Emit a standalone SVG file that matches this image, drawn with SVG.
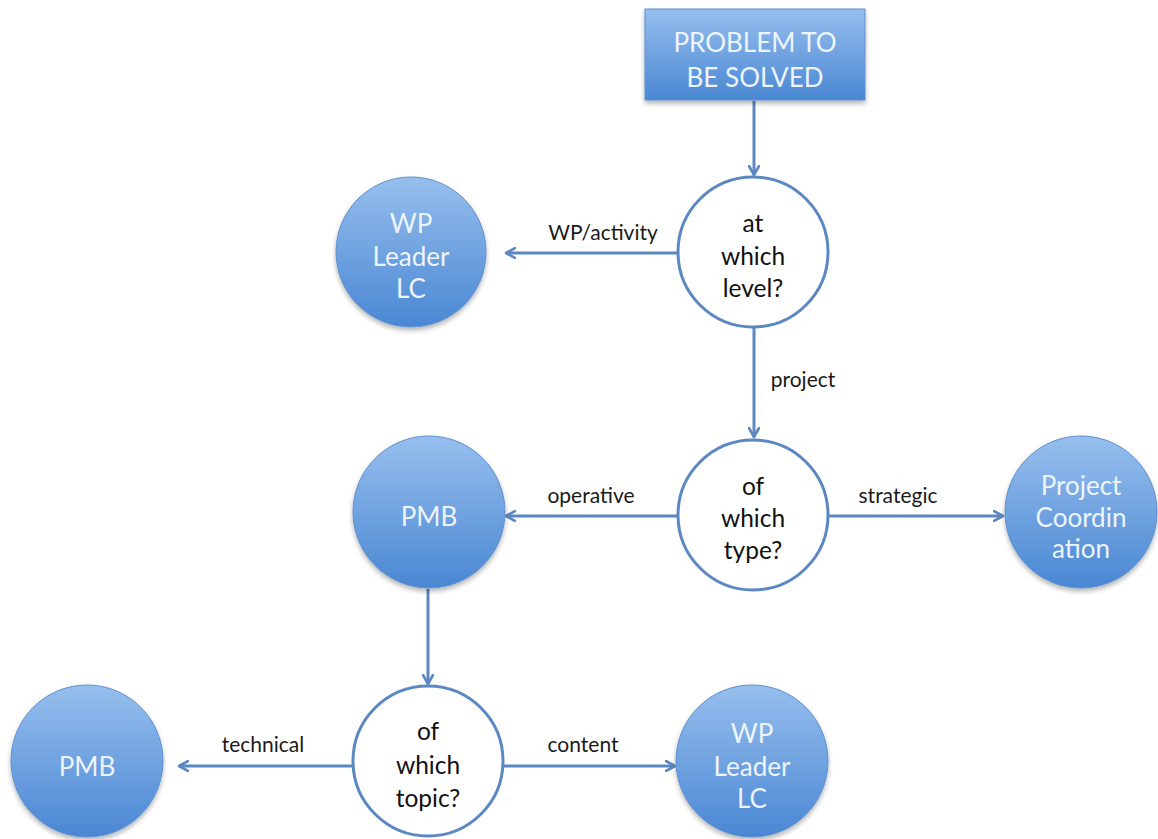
<svg xmlns="http://www.w3.org/2000/svg" width="1158" height="839" viewBox="0 0 1158 839">
  <style>
    .blue { fill: url(#blueFill); stroke: #5d8fcf; stroke-width: 1; filter: url(#shadow); }
    .ask { fill: #ffffff; stroke: #5b88c2; stroke-width: 3; }
    .edge { fill: none; stroke: #5b88c2; stroke-width: 3; marker-end: url(#arrow); }
    .tw { font-family: Lato, "Liberation Sans", sans-serif; font-size: 26px; fill: #eef4fc; text-anchor: middle; }
    .tb { font-family: Lato, "Liberation Sans", sans-serif; font-size: 24.5px; fill: #111111; text-anchor: middle; }
    .lbl { font-family: Lato, "Liberation Sans", sans-serif; font-size: 21px; fill: #1a1a1a; text-anchor: middle; }
  </style>
  <defs>
    <linearGradient id="blueFill" x1="0" y1="0" x2="0" y2="1">
      <stop offset="0" stop-color="#96bfee"/>
      <stop offset="1" stop-color="#4a87d3"/>
    </linearGradient>
    <filter id="shadow" x="-20%" y="-20%" width="140%" height="140%">
      <feGaussianBlur in="SourceAlpha" stdDeviation="2.5"/>
      <feOffset dx="0" dy="3" result="b"/>
      <feComponentTransfer><feFuncA type="linear" slope="0.3"/></feComponentTransfer>
      <feMerge><feMergeNode/><feMergeNode in="SourceGraphic"/></feMerge>
    </filter>
    <marker id="arrow" viewBox="0 0 12 12" refX="10" refY="6" markerWidth="12" markerHeight="12" markerUnits="userSpaceOnUse" orient="auto">
      <path d="M1,1 L10,6 L1,11" fill="none" stroke="#5b88c2" stroke-width="2.6" stroke-linecap="round" stroke-linejoin="round"/>
    </marker>
  </defs>

  <rect width="1158" height="839" fill="#ffffff"/>

  <!-- connectors and their labels -->
  <g id="connectors">
    <line class="edge" x1="754" y1="101" x2="754" y2="175"/>
    <line class="edge" x1="678" y1="253" x2="506" y2="253"/>
    <line class="edge" x1="754" y1="328" x2="754" y2="437"/>
    <line class="edge" x1="678" y1="516" x2="506" y2="516"/>
    <line class="edge" x1="828" y1="516" x2="1003" y2="516"/>
    <line class="edge" x1="428" y1="589" x2="428" y2="684"/>
    <line class="edge" x1="353" y1="766" x2="179" y2="766"/>
    <line class="edge" x1="503" y1="766" x2="675" y2="766"/>
    <text class="lbl" x="603" y="240">WP/activity</text>
    <text class="lbl" x="803" y="387">project</text>
    <text class="lbl" x="591" y="503">operative</text>
    <text class="lbl" x="898" y="503">strategic</text>
    <text class="lbl" x="263" y="752">technical</text>
    <text class="lbl" x="583" y="752">content</text>
  </g>

  <g id="problem">
    <rect class="blue" x="645" y="9" width="220" height="91"/>
    <text class="tw" x="755" y="52" font-size="31.5">PROBLEM TO</text>
    <text class="tw" x="755" y="87" font-size="31.5">BE SOLVED</text>
  </g>

  <g id="level">
    <circle class="ask" cx="753" cy="252" r="75"/>
    <text class="tb" x="753" y="232">at</text>
    <text class="tb" x="753" y="265">which</text>
    <text class="tb" x="753" y="297">level?</text>
  </g>

  <g id="wp-leader-top">
    <circle class="blue" cx="411" cy="252" r="75"/>
    <text class="tw" x="411" y="233">WP</text>
    <text class="tw" x="411" y="266">Leader</text>
    <text class="tw" x="411" y="298">LC</text>
  </g>

  <g id="type">
    <circle class="ask" cx="753" cy="515" r="75"/>
    <text class="tb" x="753" y="495">of</text>
    <text class="tb" x="753" y="527">which</text>
    <text class="tb" x="753" y="559">type?</text>
  </g>

  <g id="pmb-mid">
    <circle class="blue" cx="429" cy="512" r="76"/>
    <text class="tw" x="429" y="526">PMB</text>
  </g>

  <g id="coordination">
    <circle class="blue" cx="1081" cy="512" r="76"/>
    <text class="tw" x="1081" y="495">Project</text>
    <text class="tw" x="1081" y="527">Coordin</text>
    <text class="tw" x="1081" y="558">ation</text>
  </g>

  <g id="topic">
    <circle class="ask" cx="428" cy="761" r="75"/>
    <text class="tb" x="428" y="740">of</text>
    <text class="tb" x="428" y="774">which</text>
    <text class="tb" x="428" y="807">topic?</text>
  </g>

  <g id="pmb-bottom">
    <circle class="blue" cx="87" cy="761" r="76"/>
    <text class="tw" x="87" y="776">PMB</text>
  </g>

  <g id="wp-leader-bottom">
    <circle class="blue" cx="752" cy="761" r="76"/>
    <text class="tw" x="752" y="743">WP</text>
    <text class="tw" x="752" y="776">Leader</text>
    <text class="tw" x="752" y="808">LC</text>
  </g>
</svg>
